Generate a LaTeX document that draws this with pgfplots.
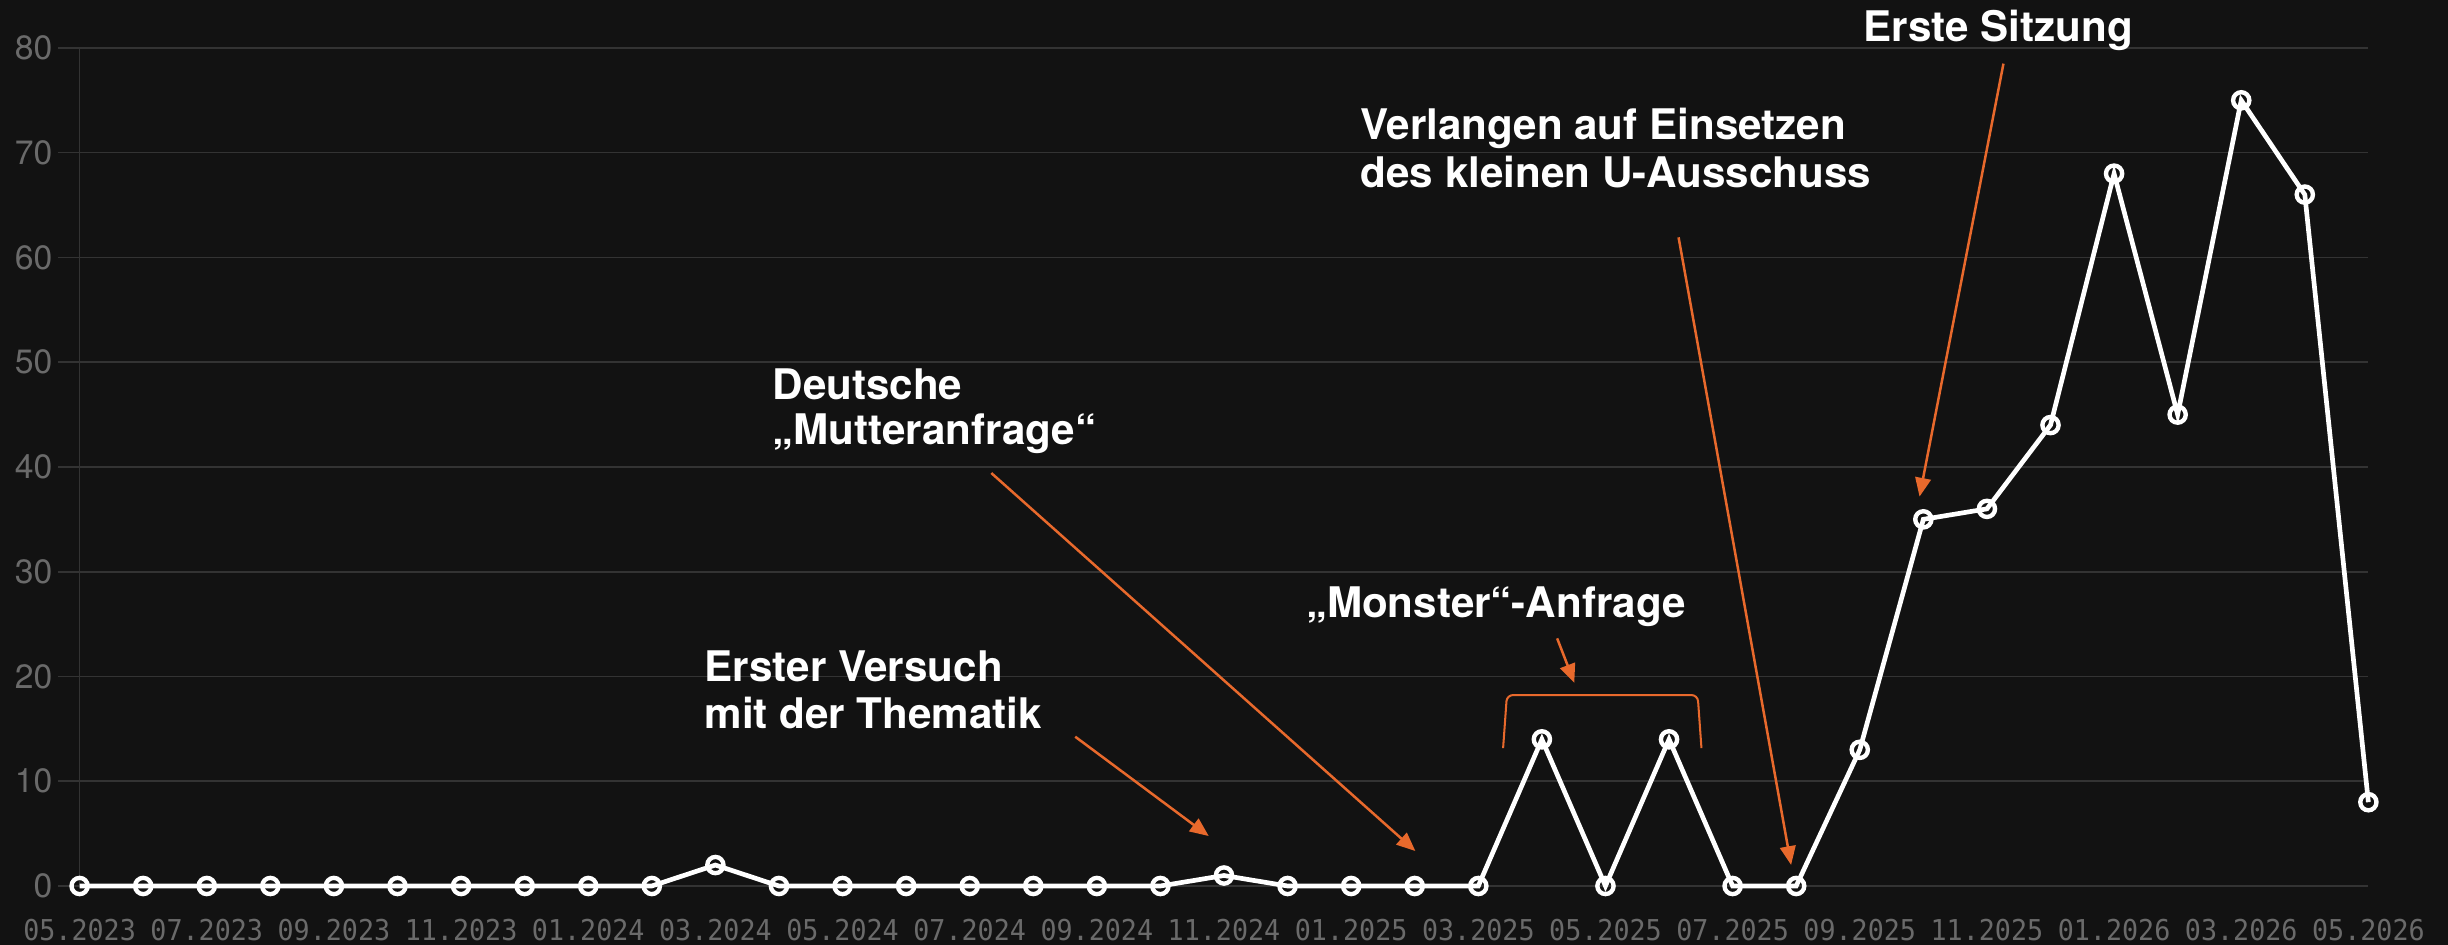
\documentclass[border=0pt]{standalone}
\usepackage{fontspec}
\setmainfont{TeX Gyre Heros}
\newfontfamily\monof[FakeStretch=0.93]{DejaVu Sans Mono}
\usepackage{pgfplots}
\pgfplotsset{compat=1.18}
\usetikzlibrary{arrows.meta}
\definecolor{bg}{HTML}{121212}
\definecolor{gridc}{HTML}{333333}
\definecolor{tickc}{HTML}{6A6A6A}
\definecolor{acc}{HTML}{E8692C}

\pgfplotstableread{
x y
0 0
1 0
2 0
3 0
4 0
5 0
6 0
7 0
8 0
9 0
10 2
11 0
12 0
13 0
14 0
15 0
16 0
17 0
18 1
19 0
20 0
21 0
22 0
23 14
24 0
25 14
26 0
27 0
28 13
29 35
30 36
31 44
32 68
33 45
34 75
35 66
36 8
}\datatable

\begin{document}
\begin{tikzpicture}
\useasboundingbox[fill=bg] (-25.5pt,-18.75pt) rectangle (758.5pt,283.75pt);
\begin{axis}[
  at={(0pt,0pt)}, anchor=south west,
  scale only axis, width=733pt, height=268.4pt,
  xmin=0, xmax=36, ymin=0, ymax=80,
  clip=false,
  axis x line*=bottom, axis y line*=left,
  x axis line style={draw=none},
  y axis line style={draw=gridc, line width=0.5pt},
  ytick={0,10,...,80},
  ymajorgrids,
  major grid style={draw=gridc, line width=0.5pt},
  ytick style={draw=gridc, line width=0.5pt},
  tick align=outside,
  major tick length=7pt,
  xtick={0,2,...,36},
  xtick style={draw=none},
  xticklabels={05.2023,07.2023,09.2023,11.2023,01.2024,03.2024,05.2024,07.2024,09.2024,11.2024,01.2025,03.2025,05.2025,07.2025,09.2025,11.2025,01.2026,03.2026,05.2026},
  xticklabel style={anchor=base, yshift=-10.5pt, text=tickc, font=\monof\fontsize{9.2}{10}\selectfont, inner sep=0pt},
  yticklabel style={anchor=east, xshift=-1.5pt, text=tickc, font=\fontsize{10.8}{12}\selectfont, inner sep=0pt},
  /pgf/number format/assume math mode=true,
]
\addplot[white, line width=1.5pt, mark=o, mark size=2.6pt,
  mark options={white, line width=1.4pt, fill=none}] table[x=x,y=y] {\datatable};

% annotations
\tikzset{ann/.style={anchor=base west, inner sep=0pt, text=white, font=\fontsize{13.5}{15}\selectfont\bfseries},
         arr/.style={acc, line width=0.8pt, -{Triangle[length=6pt,width=5pt]}}}
\node[ann] at (axis cs:28.05,80.6) {Erste Sitzung};
\draw[arr] (axis cs:30.26,78.5) -- (axis cs:28.94,37.17);

\node[ann] at (axis cs:20.14,71.24) {Verlangen auf Einsetzen};
\node[ann] at (axis cs:20.14,66.7) {des kleinen U-Ausschuss};
\draw[arr] (axis cs:25.15,61.92) -- (axis cs:26.92,2.01);

\node[ann] at (axis cs:10.89,46.45) {Deutsche};
\node[ann] at (axis cs:10.89,42.1) {„Mutteranfrage“};
\draw[arr] (axis cs:14.34,39.42) -- (axis cs:21.01,3.34);

\node[ann] at (axis cs:19.28,25.65) {„Monster“-Anfrage};
\draw[arr] (axis cs:23.24,23.64) -- (axis cs:23.51,19.40);
\draw[acc, line width=0.65pt, rounded corners=2pt] (axis cs:22.39,13.16) -- (axis cs:22.45,18.23) -- (axis cs:25.45,18.23) -- (axis cs:25.51,13.16);

\node[ann] at (axis cs:9.82,19.51) {Erster Versuch};
\node[ann] at (axis cs:9.82,15.05) {mit der Thematik};
\draw[arr] (axis cs:15.66,14.25) -- (axis cs:17.76,4.77);
\end{axis}
\end{tikzpicture}
\end{document}
